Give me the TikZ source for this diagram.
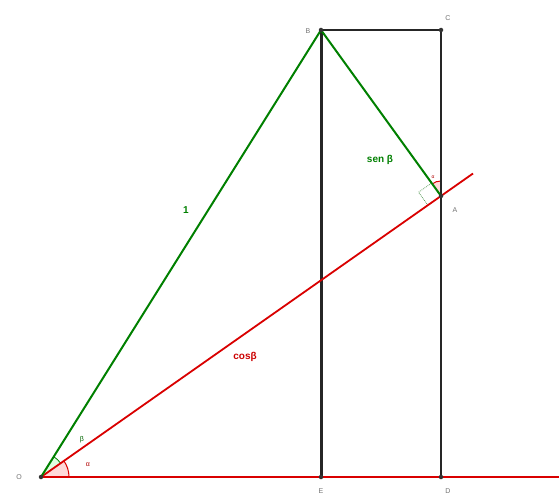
\documentclass[tikz,border=0pt]{standalone}
\usepackage{fontspec}
\setmainfont{Liberation Sans}
\usetikzlibrary{calc}
\begin{document}
\begin{tikzpicture}[x=1pt,y=-1pt,
  greenline/.style={draw=green!50!black, line width=2pt},
  redline/.style={draw=red!85!black, line width=1.8pt},
  blackthick/.style={draw=black!85, line width=3pt},
  blackthin/.style={draw=black!85, line width=1.5pt},
  pt/.style={circle, fill=black!80, inner sep=0pt, minimum size=4.5pt},
  ptlabel/.style={font=\scriptsize, text=black!55},
  biglabel/.style={font=\normalsize\bfseries}]
\useasboundingbox (0,0) rectangle (559,497);
\fill[white] (0,0) rectangle (559,497);
% points
\coordinate (O) at (41,477);
\coordinate (F) at (321,30);
\coordinate (C) at (441,30);
\coordinate (A) at (441,196);
\coordinate (E) at (321,477);
\coordinate (D) at (441,477);
\coordinate (Rend) at (473,173.5);
\coordinate (Hend) at (559,477);
% angle fills at O
\fill[red!15] (O) -- ++(28,0) arc[start angle=0, end angle=-35.1, radius=28] -- cycle;
\draw[red!85!black, line width=1pt] ($(O)+(28,0)$) arc[start angle=0, end angle=-35.1, radius=28];
\fill[green!12] (O) -- ++(-35.1:24) arc[start angle=-35.1, end angle=-57.9, radius=24] -- cycle;
\draw[green!50!black, line width=0.8pt] ($(O)+(-35.1:24)$) arc[start angle=-35.1, end angle=-57.9, radius=24];
% angle at A
\fill[red!15] (A) -- ++(0,-15) arc[start angle=-90, end angle=-125.9, radius=15] -- cycle;
\draw[red!85!black, line width=1pt] ($(A)+(0,-15)$) arc[start angle=-90, end angle=-125.9, radius=15];
% right angle mark
\draw[green!40!black!60, line width=0.8pt, densely dotted] ($(A)+(-0.818*16,0.575*16)$) -- ++(-0.586*16,-0.810*16) -- ++(0.818*16,-0.575*16);
% lines
\draw[blackthin] (F) -- (C) -- (D);
\draw[blackthick] (F) -- (E);
\draw[redline] (O) -- (Hend);
\draw[redline] (O) -- (Rend);
\draw[greenline] (O) -- (F) -- (A);
% dots
\foreach \p in {O,F,C,A,E,D} \node[pt] at (\p) {};
% point labels
\node[ptlabel] (lO) at (19,477) {O};
\node[ptlabel] (lF) at (308,31) {B};
\node[ptlabel] (lC) at (448,18) {C};
\node[ptlabel] (lA) at (455,210) {A};
\node[ptlabel] (lE) at (321,491) {E};
\node[ptlabel] (lD) at (448,491) {D};
% angle labels
\node[font=\scriptsize, text=green!40!black] (lb) at (82,440) {β};
\node[font=\scriptsize, text=red!70!black] (la) at (88,465) {α};
\node[font=\tiny, text=red!70!black] (la2) at (433,177) {α};
% main labels
\node[biglabel, text=green!50!black] (one) at (186,210) {1};
\node[biglabel, text=green!50!black] (sen) at (380,160) {sen β};
\node[biglabel, text=red!80!black] (cos) at (245,357) {cosβ};
\end{tikzpicture}
\end{document}
